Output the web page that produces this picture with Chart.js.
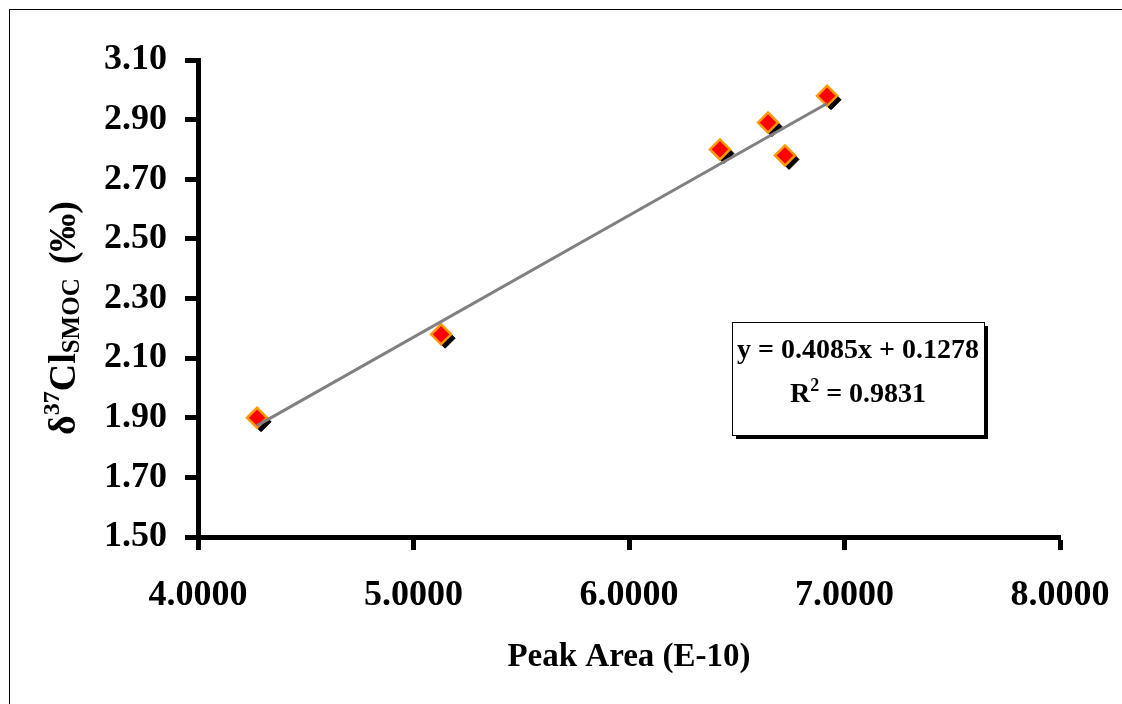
<!DOCTYPE html>
<html lang="en">
<head>
<meta charset="UTF-8">
<title>Peak Area vs delta 37Cl</title>
<script src="https://cdn.jsdelivr.net/npm/chart.js"></script>
<style>
  body, html { margin: 0; padding: 0; background: #fff; overflow: hidden; }
  .frame { position: absolute; left: 9px; top: 9px; width: 1300px; height: 900px; border: 1px solid #000; }
  #wrap { position: absolute; left: 0; top: 0; width: 1122px; height: 704px; }
</style>
</head>
<body>
<div class="frame"></div>
<div id="wrap"><canvas id="chart" width="1122" height="704"></canvas></div>
<script>
  // measured points
  const peakArea = [4.274, 5.128, 6.422, 6.645, 6.724, 6.919];
  const delta37Cl = [1.90, 2.18, 2.80, 2.89, 2.78, 2.98];
  const xTicks = [4, 5, 6, 7, 8];
  const yTicks = [1.5, 1.7, 1.9, 2.1, 2.3, 2.5, 2.7, 2.9, 3.1];

  // linear trendline as printed on the chart
  const slope = 0.4085;
  const intercept = 0.1278;
  const rSquared = 0.9831;

  const SERIF = "'Liberation Serif', 'Times New Roman', serif";

  const points = peakArea.map((x, i) => ({ x: x, y: delta37Cl[i] }));
  const xMin = Math.min(...peakArea), xMax = Math.max(...peakArea);
  const trend = [xMin, xMax].map(x => ({ x: x, y: slope * x + intercept }));

  // dataset 2 is the black copy of the markers, nudged down-right as a shadow
  const markerShadow = {
    id: 'markerShadow',
    beforeDatasetDraw(chart, args) {
      if (args.index !== 2) return;
      chart.ctx.save();
      chart.ctx.translate(4, 4);
    },
    afterDatasetDraw(chart, args) {
      if (args.index !== 2) return;
      chart.ctx.restore();
    }
  };

  function drawRuns(ctx, runs, cx, cy) {
    let total = 0;
    runs.forEach(r => {
      ctx.font = 'bold ' + r.size + 'px ' + SERIF;
      r.w = ctx.measureText(r.text).width + (r.gap || 0);
      total += r.w;
    });
    let x = cx - total / 2;
    runs.forEach(r => {
      ctx.font = 'bold ' + r.size + 'px ' + SERIF;
      ctx.fillText(r.text, x + (r.gap || 0), cy + r.dy);
      x += r.w;
    });
  }

  const extras = {
    id: 'extras',
    afterDraw(chart) {
      const ctx = chart.ctx;
      ctx.save();
      ctx.fillStyle = '#000';
      ctx.textAlign = 'left';
      ctx.textBaseline = 'alphabetic';

      // y axis title
      ctx.save();
      ctx.translate(75, 318);
      ctx.rotate(-Math.PI / 2);
      drawRuns(ctx, [
        { text: '\u03B4', size: 38, dy: 0 },
        { text: '37', size: 24, dy: -16 },
        { text: 'Cl', size: 38, dy: 0 },
        { text: 'SMOC', size: 25, dy: 4 },
        { text: '(\u2030)', size: 38, dy: 0, gap: 14 }
      ], 0, 0);
      ctx.restore();

      // equation box
      const bx = 732, by = 322, bw = 252, bh = 113;
      ctx.fillStyle = '#000';
      ctx.fillRect(bx + 4, by + 4, bw, bh);
      ctx.fillStyle = '#fff';
      ctx.fillRect(bx, by, bw, bh);
      ctx.strokeStyle = '#000';
      ctx.lineWidth = 1;
      ctx.strokeRect(bx + 0.5, by + 0.5, bw, bh);
      ctx.fillStyle = '#000';
      drawRuns(ctx, [{ text: 'y = ' + slope.toFixed(4) + 'x + ' + intercept.toFixed(4), size: 28, dy: 0 }], bx + bw / 2, 358);
      drawRuns(ctx, [
        { text: 'R', size: 28, dy: 0 },
        { text: '2', size: 18, dy: -11 },
        { text: ' = ' + rSquared.toFixed(4), size: 28, dy: 0 }
      ], bx + bw / 2, 402);
      ctx.restore();
    }
  };

  const markerStyle = {
    pointStyle: 'rectRot',
    pointRadius: 10,
    pointHoverRadius: 10
  };

  new Chart(document.getElementById('chart'), {
    type: 'scatter',
    data: {
      datasets: [
        {
          type: 'line',
          data: trend,
          borderColor: '#808080',
          borderWidth: 3,
          pointRadius: 0,
          fill: false,
          tension: 0
        },
        Object.assign({
          data: points,
          backgroundColor: '#FF0000',
          borderColor: '#FF9900',
          borderWidth: 2.5
        }, markerStyle),
        Object.assign({
          data: points,
          backgroundColor: '#000',
          borderColor: '#000',
          borderWidth: 1
        }, markerStyle)
      ]
    },
    options: {
      responsive: false,
      animation: false,
      devicePixelRatio: 1,
      layout: { padding: { top: 60, right: 62, bottom: 0, left: 0 } },
      plugins: {
        legend: { display: false },
        tooltip: { enabled: false }
      },
      scales: {
        x: {
          type: 'linear',
          min: 4,
          max: 8,
          afterBuildTicks: s => { s.ticks = xTicks.map(v => ({ value: v })); },
          afterFit: s => { s.height = 167; s.paddingLeft = 0; s.paddingRight = 0; },
          border: { display: true, color: '#000', width: 5 },
          grid: { drawOnChartArea: false, drawTicks: true, tickLength: 13, tickWidth: 5, tickColor: '#000' },
          ticks: {
            color: '#000',
            padding: 24,
            font: { family: SERIF, size: 36, weight: 'bold' },
            callback: v => Number(v).toFixed(4)
          },
          title: {
            display: true,
            text: 'Peak Area (E-10)',
            color: '#000',
            font: { family: SERIF, size: 33, weight: 'bold' },
            padding: { top: 0, bottom: 27 }
          }
        },
        y: {
          type: 'linear',
          min: 1.5,
          max: 3.1,
          afterBuildTicks: s => { s.ticks = yTicks.map(v => ({ value: v })); },
          afterFit: s => { s.width = 198; s.paddingTop = 0; s.paddingBottom = 0; },
          border: { display: true, color: '#000', width: 5 },
          grid: { drawOnChartArea: false, drawTicks: true, tickLength: 13, tickWidth: 5, tickColor: '#000' },
          ticks: {
            color: '#000',
            padding: 18,
            font: { family: SERIF, size: 36, weight: 'bold' },
            callback: v => Number(v).toFixed(2)
          }
        }
      }
    },
    plugins: [markerShadow, extras]
  });
</script>
</body>
</html>
